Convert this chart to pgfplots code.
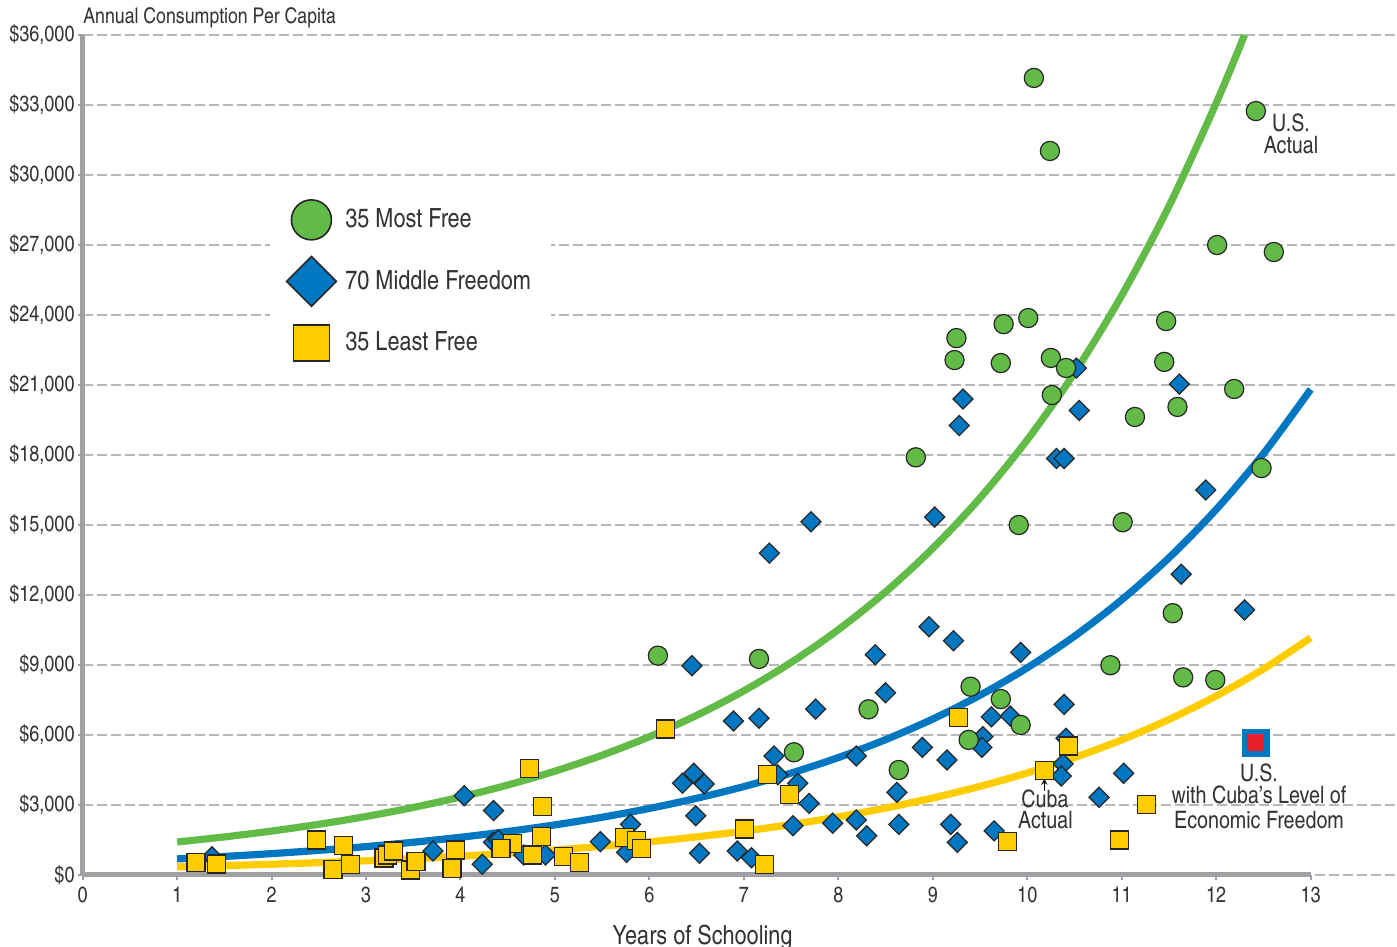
\documentclass[border=0pt]{standalone}
\usepackage{pgfplots}
\pgfplotsset{compat=1.18}
\usepackage{pgfplotstable}
\usepackage{fontspec}
\setmainfont{texgyreheroscn}[Extension=.otf, UprightFont=*-regular, BoldFont=*-bold, ItalicFont=*-italic, BoldItalicFont=*-bolditalic]

\definecolor{freegreen}{HTML}{62BB46}
\definecolor{midblue}{HTML}{0077C0}
\definecolor{leastyellow}{HTML}{FFCC00}
\definecolor{usred}{HTML}{E8202A}
\definecolor{axisgray}{HTML}{A0A0A4}
\definecolor{gridgray}{HTML}{B8B8B8}
\definecolor{txt}{HTML}{333333}

\pgfplotsset{bigmark/.style={legend image code/.code={\path[draw=none, fill=none] (-12.5pt,-12.5pt) rectangle (12.5pt,12.5pt);
        \draw[##1] plot coordinates {(0pt,0pt)};}}}

% 35 most free
\pgfplotstableread{
x y
10.07 34160
10.24 31030
12.42 32740
12.01 27000
12.61 26700
9.25 23010
9.75 23610
10.01 23870
11.47 23740
9.23 22070
9.72 21940
10.25 22160
10.41 21730
11.45 21990
10.26 20570
12.19 20830
11.59 20060
11.14 19630
12.48 17440
8.82 17900
9.91 15000
11.01 15120
6.09 9400
7.16 9260
10.88 8990
11.54 11220
11.65 8470
11.99 8360
9.40 8070
9.72 7540
9.93 6430
8.32 7100
9.38 5790
7.53 5260
8.64 4500
}\mostfree

% 70 middle freedom
\pgfplotstableread{
x y
10.52 21720
9.32 20400
11.61 21040
10.55 19910
9.28 19260
10.31 17850
10.39 17850
11.89 16500
9.02 15340
7.71 15140
7.27 13790
11.63 12890
12.30 11360
8.96 10640
9.22 10040
8.39 9440
6.45 8970
9.93 9540
8.50 7810
10.39 7310
7.76 7110
6.89 6600
7.16 6720
9.62 6780
9.82 6810
8.89 5470
9.53 5930
9.15 4930
9.52 5470
8.19 5100
7.32 5100
7.36 4290
7.57 3930
7.69 3070
8.62 3540
6.35 3930
6.47 4360
6.58 3900
6.49 2540
5.80 2170
5.76 970
6.53 930
6.93 1030
7.08 740
7.52 2110
7.94 2220
8.19 2360
8.30 1680
8.64 2170
9.19 2170
9.26 1400
9.65 1890
5.48 1430
10.41 5860
10.38 4760
10.36 4240
11.02 4360
10.76 3330
1.37 780
4.04 3400
4.35 2760
3.71 1030
4.23 460
4.35 1400
4.40 1500
4.67 860
4.90 860
}\middlefree

% 35 least free
\pgfplotstableread{
x y
1.20 540
1.42 470
2.48 1500
2.76 1260
2.65 240
2.84 460
3.19 730
3.23 860
3.29 1030
3.47 210
3.53 570
3.95 1070
3.91 290
4.73 4570
4.87 2930
4.86 1640
4.55 1360
4.43 1140
4.76 860
5.09 790
5.26 530
5.74 1600
5.86 1470
5.92 1140
6.17 6260
7.25 4290
7.48 3460
7.01 1970
7.22 460
9.27 6760
9.79 1430
10.18 4470
10.44 5530
11.26 3030
10.98 1500
}\leastfree

\begin{document}
\begin{tikzpicture}
\useasboundingbox (-41.3pt,-36pt) rectangle (657.2pt,437.5pt);
\begin{axis}[
    at={(0pt,0pt)}, anchor=south west,
    width=657.2pt, height=420pt, scale only axis,
    xmin=0, xmax=13.914, ymin=0, ymax=36000,
    axis x line*=bottom, axis y line*=left,
    axis line style={draw=none},
    xtick={0,...,13}, ytick={0,3000,...,36000},
    tick align=outside, major tick length=2.5pt,
    tick style={axisgray, line width=1pt},
    ymajorgrids,
    grid style={gridgray, line width=0.75pt, dash pattern=on 5pt off 2pt},
    scaled y ticks=false,
    yticklabel={\$\pgfmathprintnumber{\tick}},
    ticklabel style={font=\fontsize{11}{13}\selectfont, text=txt,
        /pgf/number format/fixed, /pgf/number format/1000 sep={,},
        /pgf/number format/assume math mode=true},
    yticklabel style={xshift=2pt},
    clip=false,
    legend style={at={(0.1426,0.8197)}, anchor=north west, draw=none, fill=white,
        inner xsep=8pt, inner ysep=4pt, row sep=5.75pt, column sep=2.5pt,
        font=\fontsize{13.2}{15}\selectfont, text=txt, cells={anchor=west}},
]
% axis lines
\draw[axisgray, line width=2.5pt] (axis cs:0,0) -- (axis cs:13,0);
\draw[axisgray, line width=2.5pt] (axis cs:0,0) -- (axis cs:0,36000);

% trend curves
\addplot[forget plot, freegreen, line width=3.6pt, smooth] coordinates {
(1,1414)(1.5,1632)(2,1883)(2.5,2173)(3,2508)(3.5,2895)(4,3341)(4.5,3856)
(5,4450)(5.5,5135)(6,5927)(6.5,6840)(7,7893)(7.5,9109)(8,10513)(8.5,12133)
(9,14002)(9.5,16159)(10,18649)(10.5,21522)(11,24838)(11.5,28665)(12,33082)(12.3,36000)};
\addplot[forget plot, midblue, line width=3.6pt, smooth] coordinates {
(1,690)(1.5,795)(2,916)(2.5,1056)(3,1217)(3.5,1403)(4,1617)(4.5,1864)
(5,2148)(5.5,2475)(6,2853)(6.5,3288)(7,3789)(7.5,4367)(8,5033)(8.5,5801)
(9,6685)(9.5,7705)(10,8880)(10.5,10234)(11,11795)(11.5,13594)(12,15667)(12.5,18056)(13,20810)};
\addplot[forget plot, leastyellow, line width=3.6pt, smooth] coordinates {
(1,348)(1.5,401)(2,461)(2.5,531)(3,611)(3.5,703)(4,809)(4.5,932)
(5,1072)(5.5,1234)(6,1420)(6.5,1635)(7,1881)(7.5,2165)(8,2492)(8.5,2868)
(9,3301)(9.5,3799)(10,4373)(10.5,5033)(11,5792)(11.5,6666)(12,7672)(12.5,8830)(13,10163)};

% points
\addplot[forget plot, only marks, mark=square*, mark size=3.55pt,
    mark options={rotate=45, fill=midblue, draw=black!85, line width=0.6pt}] table {\middlefree};
\addplot[forget plot, only marks, mark=*, mark size=4.8pt,
    mark options={fill=freegreen, draw=black!85, line width=0.6pt}] table {\mostfree};
\addplot[forget plot, only marks, mark=square*, mark size=4.5pt,
    mark options={fill=leastyellow, draw=black!85, line width=0.6pt}] table {\leastfree};
% U.S. with Cuba's level of economic freedom
\addplot[forget plot, only marks, mark=square*, mark size=5.6pt,
    mark options={fill=usred, draw=midblue, line width=2.75pt}] coordinates {(12.42,5670)};

\addlegendimage{only marks, mark=*, mark size=10pt,
    mark options={fill=freegreen, draw=black!85, line width=0.8pt}, bigmark}
\addlegendentry{35 Most Free}
\addlegendimage{only marks, mark=square*, mark size=8.8pt,
    mark options={rotate=45, fill=midblue, draw=black!85, line width=0.8pt}, bigmark}
\addlegendentry{70 Middle Freedom}
\addlegendimage{only marks, mark=square*, mark size=9pt,
    mark options={fill=leastyellow, draw=black!85, line width=0.8pt}, bigmark}
\addlegendentry{35 Least Free}
\end{axis}

\begin{scope}[text=txt, inner sep=0pt]
\node[anchor=base west, font=\fontsize{10.8}{12}\selectfont] at (0.2pt,425.5pt) {Annual Consumption Per Capita};
\node[anchor=base, font=\fontsize{13.2}{15}\selectfont] at (310pt,-34.5pt) {Years of Schooling};
\begin{scope}[font=\fontsize{12}{14}\selectfont]
\node[anchor=base] at (604.2pt,371.7pt) {U.S.};
\node[anchor=base] at (604.2pt,360.9pt) {Actual};
\node[anchor=base] at (481.2pt,33.85pt) {Cuba};
\node[anchor=base] at (481.4pt,23.35pt) {Actual};
\node[anchor=base] at (588.2pt,46.65pt) {U.S.};
\node[anchor=base] at (588.2pt,35.5pt) {with Cuba’s Level of};
\node[anchor=base] at (588.2pt,23.35pt) {Economic Freedom};
\end{scope}
\end{scope}
\draw[black, line width=0.4pt, -stealth] (480.9pt,42pt) -- (480.9pt,48.2pt);
\end{tikzpicture}
\end{document}
